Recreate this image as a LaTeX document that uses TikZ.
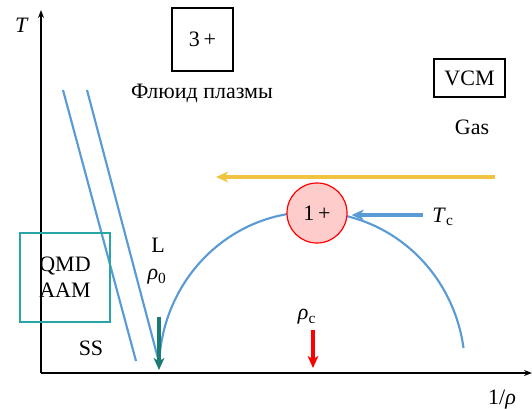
\documentclass[tikz,border=0pt]{standalone}
\usepackage{fontspec}
\setmainfont{Liberation Serif}
\usetikzlibrary{arrows.meta}
\definecolor{cblue}{RGB}{91,155,213}
\definecolor{cyel}{RGB}{240,196,64}
\definecolor{cteal}{RGB}{42,165,165}
\definecolor{cdteal}{RGB}{28,122,116}
\definecolor{cpink}{RGB}{255,204,204}
\tikzset{
  axis/.style={line width=1pt,-{Stealth[length=6pt,width=4.5pt]}},
  bline/.style={draw=cblue,line width=1.6pt},
  lbl/.style={inner sep=0pt},
  blackbox/.style={draw=black,line width=0.8pt,inner sep=0pt},
  tealbox/.style={draw=cteal,line width=1.2pt,inner sep=0pt,align=center},
  bigarrow/.style={line width=2.4pt,-{Stealth[length=9pt,width=8pt,inset=2.5pt]}},
}
\begin{document}
\begin{tikzpicture}[x=0.75pt,y=-0.75pt,font=\fontsize{16.5}{19.5}\selectfont]
\useasboundingbox (0,0) rectangle (532,408);
% axes
\coordinate (O) at (41,373);
\coordinate (Xe) at (532,373);
\coordinate (Ye) at (41,10);
\draw[axis] (O) -- (Xe);
\draw[axis] (O) -- (Ye);
\node[lbl] (tlab) at (22,25) {\textit{T}};
\node[lbl] (xlab) at (502,400) {1/\textit{ρ}};
% solid lines
\draw[bline] (63,90) -- (136,361);
\draw[bline] (87,90) -- (160,366);
% dome
\draw[bline] plot[domain=176:8,samples=80,smooth] ({312+153*cos(\x)},{370-158*sin(\x)});
% boxes
\node[blackbox,minimum width=45.75pt,minimum height=47.25pt] (b3) at (202.5,39.5) {3\,+};
\node[lbl] (fluid) at (202,93) {Флюид плазмы};
\node[blackbox,minimum width=53.25pt,minimum height=28.5pt] (vcm) at (469.5,78) {VCM};
\node[lbl] (gas) at (472,127) {Gas};
\node[tealbox,minimum width=67.5pt,minimum height=66.75pt] (qmd) at (65,277.5) {QMD\\AAM};
\node[lbl] (ss) at (91,348) {SS};
\node[lbl] (L) at (158,245) {L};
\node[lbl] (rho0) at (157,277) {\textit{ρ}\textsubscript{0}};
\node[lbl] (rhoc) at (307,317) {\textit{ρ}\textsubscript{c}};
% critical point
\node[circle,draw=red,fill=cpink,line width=0.9pt,minimum size=45pt,inner sep=0pt] (c1) at (317,213) {1\,+};
\node[lbl] (tc) at (443,217) {\textit{T}\textsubscript{c}};
% arrows
\coordinate (ys) at (495,177);
\coordinate (ye) at (216,177);
\draw[bigarrow,draw=cyel,line width=2.6pt] (ys) -- (ye);
\coordinate (tcs) at (423,215);
\draw[bigarrow,draw=cblue,line width=2.8pt,shorten >=3pt] (tcs) -- (tcs -| c1.east);
\coordinate (a0s) at (159,317);
\coordinate (a0e) at (159,370);
\draw[bigarrow,draw=cdteal] (a0s) -- (a0e);
\coordinate (acs) at (313,330);
\coordinate (ace) at (313,368);
\draw[bigarrow,draw=red] (acs) -- (ace);
\end{tikzpicture}
\end{document}
